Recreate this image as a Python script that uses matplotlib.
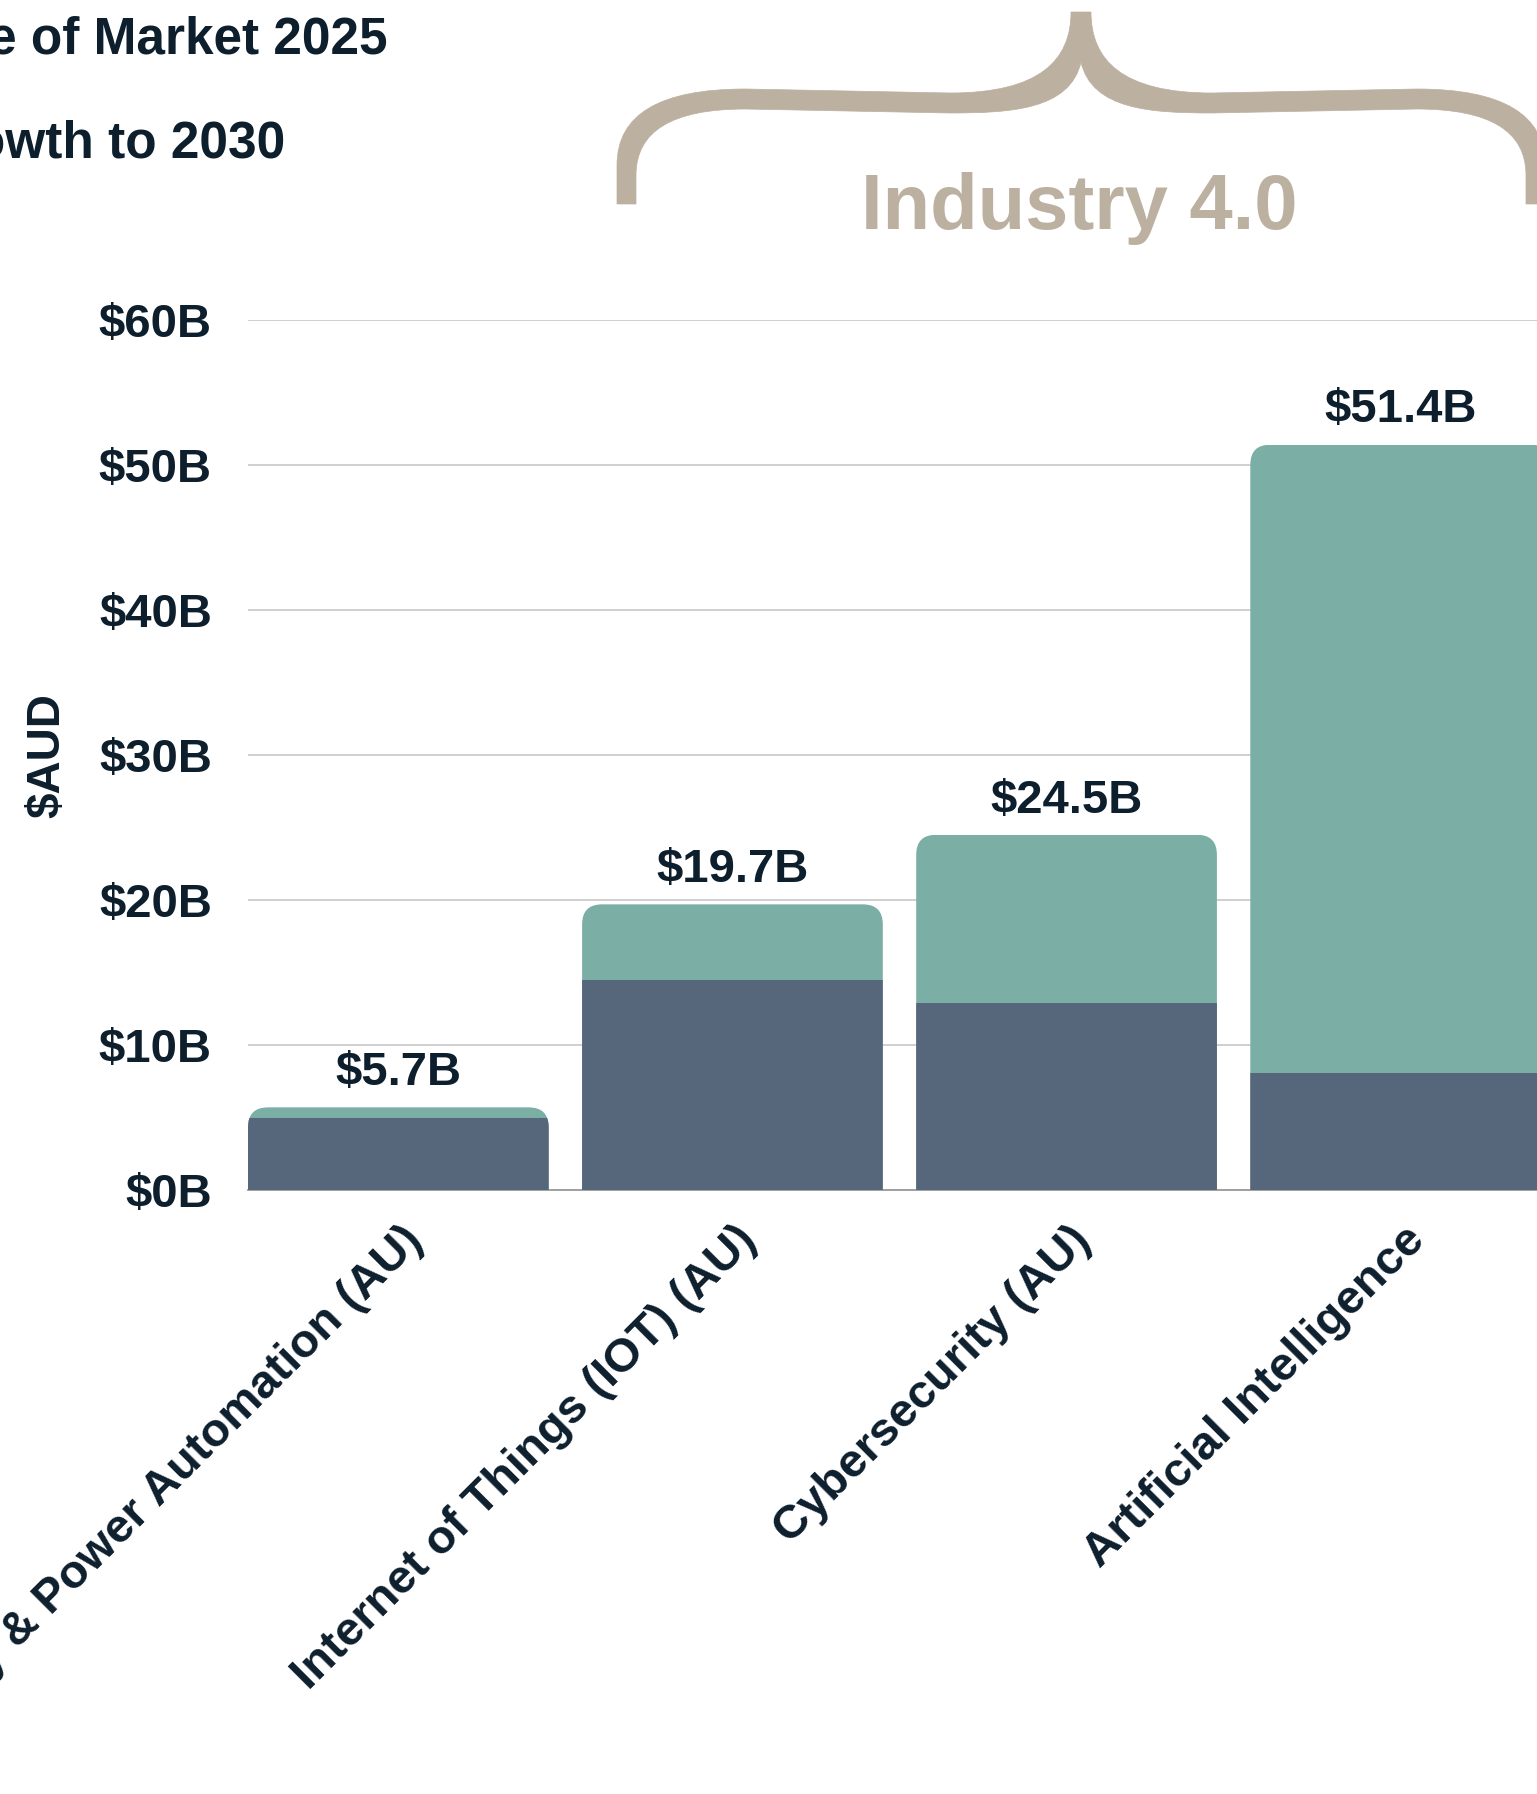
import numpy as np
import matplotlib.pyplot as plt
from matplotlib.path import Path
from matplotlib.patches import PathPatch
from matplotlib.transforms import ScaledTranslation

plt.rcParams['font.family'] = ['Liberation Sans', 'DejaVu Sans']

# data (billions AUD)
categories = ["Energy & Power Automation (AU)", "Internet of Things (IOT) (AU)",
              "Cybersecurity (AU)", "Artificial Intelligence"]
market_2025 = [5.0, 14.5, 12.9, 8.1]
growth_2030 = [0.7, 5.2, 11.6, 43.3]
total_labels = ["$5.7B", "$19.7B", "$24.5B", "$51.4B"]
yticks = [0, 10, 20, 30, 40, 50, 60]
ytick_labels = ["$0B", "$10B", "$20B", "$30B", "$40B", "$50B", "$60B"]
legend_labels = ["Size of Market 2025", "Growth to 2030"]
bracket_label = "Industry 4.0"

navy = '#0d1e2d'
slate = '#56677c'
teal = '#7baea5'
tan = '#bcb0a0'

W, H = 1537, 1794
fig = plt.figure(figsize=(W / 100, H / 100), dpi=100)
ax = fig.add_axes([248 / W, (H - 1190) / H, 1303 / W, 870 / H])

x = np.arange(len(categories))
totals = np.array(market_2025) + np.array(growth_2030)
bw = 0.9

top_bars = ax.bar(x, totals, width=bw, color=teal, zorder=2)
base_bars = ax.bar(x, market_2025, width=bw, color=slate, zorder=3)

ax.set_xlim(-0.45, 3.45)
ax.set_ylim(0, 60)

# rounded top corners, used as clip path for both segments
rx, ry = 20 / 334, 20 / 14.5
for i, t in enumerate(totals):
    x0, x1 = x[i] - bw / 2, x[i] + bw / 2
    verts = [(x0, 0), (x0, t - ry), (x0, t), (x0 + rx, t), (x1 - rx, t),
             (x1, t), (x1, t - ry), (x1, 0), (x0, 0)]
    codes = [Path.MOVETO, Path.LINETO, Path.CURVE3, Path.CURVE3, Path.LINETO,
             Path.CURVE3, Path.CURVE3, Path.LINETO, Path.CLOSEPOLY]
    clip = PathPatch(Path(verts, codes), transform=ax.transData)
    top_bars[i].set_clip_path(clip)
    base_bars[i].set_clip_path(clip)
    ax.annotate(total_labels[i], (x[i], t), xytext=(0, 16), textcoords='offset points',
                ha='center', va='baseline', fontsize=34, fontweight='bold', color=navy)

ax.set_yticks(yticks)
ax.set_yticklabels(ytick_labels, fontsize=34, fontweight='bold', color=navy)
ax.yaxis.grid(True, color='#cccccc', lw=1.3)
ax.set_axisbelow(True)
for s in ['top', 'right', 'left']:
    ax.spines[s].set_visible(False)
ax.spines['bottom'].set_color('#9a9a9a')
ax.spines['bottom'].set_linewidth(1.3)
ax.tick_params(axis='y', length=0, pad=26)
ax.tick_params(axis='x', length=0, pad=20)

ax.set_xticks(x)
ax.set_xticklabels(categories, rotation=45, ha='right', va='top', rotation_mode='anchor',
                   fontsize=34, fontweight='bold', color=navy)
for lab in ax.get_xticklabels():
    lab.set_transform(lab.get_transform() + ScaledTranslation(0.02, 0, fig.dpi_scale_trans))

fig.text(47 / W, 1 - 756 / H, "$AUD", rotation=90, ha='center', va='center',
         fontsize=33, fontweight='bold', color=navy)

# legend text (cut by the frame on the left)
fig.text(-86 / W, 1 - 53 / H, legend_labels[0], ha='left', va='baseline',
         fontsize=37, fontweight='bold', color=navy)
fig.text(-86 / W, 1 - 157 / H, legend_labels[1], ha='left', va='baseline',
         fontsize=37, fontweight='bold', color=navy)

# curly bracket over the Industry 4.0 group, drawn in pixel space
ov = fig.add_axes([0, 0, 1, 1], zorder=5)
ov.set_xlim(0, W)
ov.set_ylim(H, 0)
ov.axis('off')
cx = 1081
left = [(617, 204), (617, 165), (617, 89), (745, 89), (950, 93),
        (1040, 93), (1071, 60), (1071, 12), (cx, 12), (cx, 62),
        (1070, 110), (1010, 113), (950, 113), (745, 109),
        (636, 109), (636, 175), (636, 204), (617, 204)]
lcodes = [Path.MOVETO, Path.LINETO, Path.CURVE3, Path.CURVE3, Path.LINETO,
          Path.CURVE4, Path.CURVE4, Path.CURVE4, Path.LINETO, Path.LINETO,
          Path.CURVE4, Path.CURVE4, Path.CURVE4, Path.LINETO,
          Path.CURVE3, Path.CURVE3, Path.LINETO, Path.CLOSEPOLY]
right = [(2 * cx - px, py) for px, py in left]
for v in (left, right):
    ov.add_patch(PathPatch(Path(v, lcodes), facecolor=tan, edgecolor=tan, lw=0.5))
ov.text(1079, 229, bracket_label, ha='center', va='baseline', fontsize=56,
        fontweight='bold', color=tan)

fig.savefig('out.png', dpi=100)
